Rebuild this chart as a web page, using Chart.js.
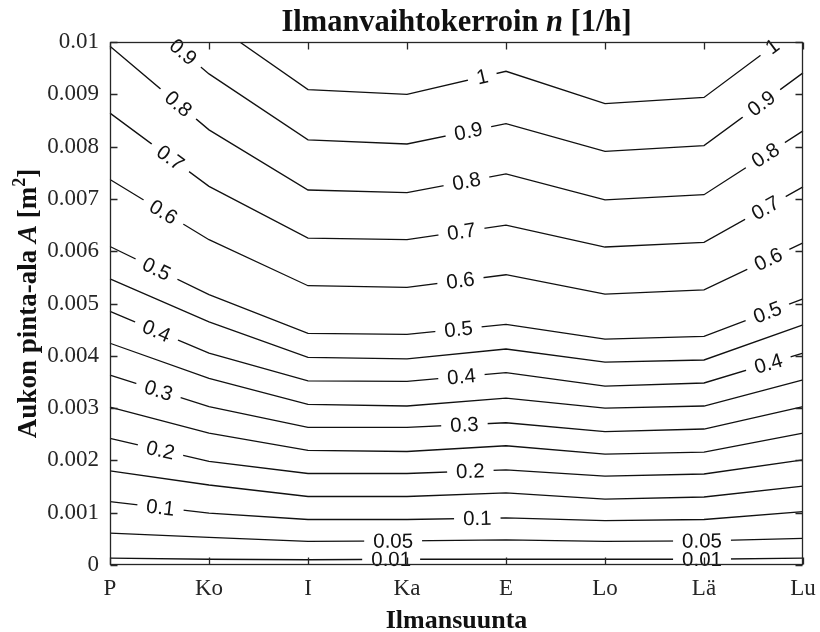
<!DOCTYPE html>
<html>
<head>
<meta charset="utf-8">
<title>Ilmanvaihtokerroin</title>
<script src="https://cdn.jsdelivr.net/npm/chart.js@4.4.1/dist/chart.umd.min.js"></script>
<style>
  html, body { margin: 0; padding: 0; background: #fff; }
  #wrap { width: 820px; height: 632px; }
</style>
</head>
<body>
<div id="wrap"><canvas id="contourChart" width="820" height="632"></canvas></div>
<script>
// ilmansuunnat x-akselilla
const directions = ['P', 'Ko', 'I', 'Ka', 'E', 'Lo', 'Lä', 'Lu'];

// y-akselin jaot
const areaTicks = [0, 0.001, 0.002, 0.003, 0.004, 0.005, 0.006, 0.007, 0.008, 0.009, 0.01];
const areaTickLabels = ['0', '0.001', '0.002', '0.003', '0.004', '0.005', '0.006', '0.007', '0.008', '0.009', '0.01'];

// tasa-arvokäyrien tasot n [1/h]
const levelLabels = ['0.01', '0.05', '0.1', '0.15', '0.2', '0.25', '0.3', '0.35', '0.4', '0.45', '0.5', '0.6', '0.7', '0.8', '0.9', '1'];

// aukon pinta-ala A [m2] jokaisella käyrällä, suunnissa P..Lu (luettu kuvasta)
const n001 = [0.00013, 0.00011, 0.00010, 0.00011, 0.00011, 0.00011, 0.00011, 0.00013];
const n005 = [0.00061, 0.00053, 0.00045, 0.00046, 0.00048, 0.00045, 0.00046, 0.00051];
const n010 = [0.00121, 0.00099, 0.00087, 0.00087, 0.00090, 0.00085, 0.00087, 0.00102];
const n015 = [0.00180, 0.00153, 0.00131, 0.00131, 0.00138, 0.00126, 0.00130, 0.00151];
const n020 = [0.00242, 0.00198, 0.00175, 0.00175, 0.00182, 0.00170, 0.00174, 0.00201];
const n025 = [0.00302, 0.00252, 0.00219, 0.00217, 0.00228, 0.00212, 0.00216, 0.00252];
const n030 = [0.00363, 0.00303, 0.00263, 0.00263, 0.00272, 0.00255, 0.00260, 0.00303];
const n035 = [0.00424, 0.00357, 0.00307, 0.00304, 0.00319, 0.00300, 0.00304, 0.00354];
const n040 = [0.00485, 0.00405, 0.00352, 0.00351, 0.00368, 0.00342, 0.00348, 0.00405];
const n045 = [0.00547, 0.00465, 0.00397, 0.00394, 0.00413, 0.00388, 0.00392, 0.00459];
const n050 = [0.00609, 0.00517, 0.00443, 0.00441, 0.00460, 0.00432, 0.00437, 0.00509];
const n060 = [0.00737, 0.00622, 0.00534, 0.00531, 0.00555, 0.00518, 0.00526, 0.00616];
const n070 = [0.00864, 0.00724, 0.00625, 0.00622, 0.00650, 0.00608, 0.00617, 0.00723];
const n080 = [0.00992, 0.00832, 0.00717, 0.00712, 0.00748, 0.00698, 0.00708, 0.00830];
const n090 = [0.01100, 0.00939, 0.00813, 0.00805, 0.00844, 0.00791, 0.00802, 0.00941];
const n100 = [0.01230, 0.01041, 0.00909, 0.00900, 0.00944, 0.00882, 0.00894, 0.01035];

const contourLines = [n001, n005, n010, n015, n020, n025, n030, n035, n040, n045, n050, n060, n070, n080, n090, n100];

// käyrien tekstit: [taso, kohta x-akselilla suuntaindeksinä]
const labelSpots = [
  ['0.9', 0.74], ['0.8', 0.69], ['0.7', 0.61], ['0.6', 0.54], ['0.5', 0.47],
  ['0.4', 0.47], ['0.3', 0.49], ['0.2', 0.51], ['0.1', 0.51],
  ['1', 3.76], ['0.9', 3.62], ['0.8', 3.6], ['0.7', 3.55], ['0.6', 3.54],
  ['0.5', 3.52], ['0.4', 3.55], ['0.3', 3.58], ['0.2', 3.64], ['0.1', 3.71],
  ['0.05', 2.86], ['0.01', 2.84],
  ['1', 6.69], ['0.9', 6.58], ['0.8', 6.62], ['0.7', 6.62], ['0.6', 6.65],
  ['0.5', 6.64], ['0.4', 6.65], ['0.05', 5.98], ['0.01', 5.98]
];

const SERIF = '"Liberation Serif", "Times New Roman", serif';
const SANS = '"Liberation Sans", Arial, sans-serif';
const AXIS_COLOR = '#262626';

// piirtää tekstin osista (eri fontit) keskitettynä
function drawParts(ctx, parts, cx, baseY){
  let total = 0;
  parts.forEach(p => { ctx.font = p.font; p.w = ctx.measureText(p.text).width; total += p.w; });
  let x = cx - total / 2;
  ctx.textAlign = 'left';
  ctx.textBaseline = 'alphabetic';
  parts.forEach(p => {
    ctx.font = p.font;
    ctx.fillText(p.text, x, baseY - (p.rise || 0));
    x += p.w;
  });
}

const contourLabels = {
  id: 'contourLabels',
  afterDatasetsDraw(chart){
    const ctx = chart.ctx;
    ctx.save();
    ctx.font = '20.5px ' + SANS;
    ctx.textAlign = 'center';
    ctx.textBaseline = 'middle';
    labelSpots.forEach(([txt, at]) => {
      const pts = chart.getDatasetMeta(levelLabels.indexOf(txt)).data;
      const i = Math.min(Math.floor(at), pts.length - 2);
      const t = at - i;
      const a = pts[i], b = pts[i + 1];
      const x = a.x + (b.x - a.x) * t;
      const y = a.y + (b.y - a.y) * t;
      const ang = Math.atan2(b.y - a.y, b.x - a.x);
      const w = ctx.measureText(txt).width;
      ctx.save();
      ctx.translate(x, y);
      ctx.rotate(ang);
      ctx.fillStyle = '#fff';
      ctx.fillRect(-w / 2 - 9, -4, w + 18, 8);
      ctx.fillStyle = '#111';
      ctx.fillText(txt, 0, 1);
      ctx.restore();
    });
    ctx.restore();
  }
};

const frame = {
  id: 'frame',
  afterDraw(chart){
    const {ctx, chartArea: ca, scales: {x, y}} = chart;
    const L = Math.round(ca.left) + 0.5, R = Math.round(ca.right) - 0.5;
    const T = Math.round(ca.top) + 0.5, B = Math.round(ca.bottom) - 0.5;
    const tick = 7;
    ctx.save();
    ctx.strokeStyle = AXIS_COLOR;
    ctx.lineWidth = 1.3;
    ctx.strokeRect(L, T, R - L, B - T);
    ctx.beginPath();
    x.ticks.forEach((tk, i) => {
      const px = Math.round(x.getPixelForTick(i)) + 0.5;
      ctx.moveTo(px, B); ctx.lineTo(px, B - tick);
      ctx.moveTo(px, T); ctx.lineTo(px, T + tick);
    });
    y.ticks.forEach((tk, i) => {
      const py = Math.round(y.getPixelForTick(i)) + 0.5;
      ctx.moveTo(L, py); ctx.lineTo(L + tick, py);
      ctx.moveTo(R, py); ctx.lineTo(R - tick, py);
    });
    ctx.stroke();

    // otsikot
    ctx.fillStyle = '#111';
    const cx = (ca.left + ca.right) / 2;
    drawParts(ctx, [
      {text: 'Ilmanvaihtokerroin ', font: 'bold 30.5px ' + SERIF},
      {text: 'n', font: 'italic bold 30.5px ' + SERIF},
      {text: ' [1/h]', font: 'bold 30.5px ' + SERIF}
    ], cx, 31);
    drawParts(ctx, [{text: 'Ilmansuunta', font: 'bold 26px ' + SERIF}], cx, 628);

    ctx.save();
    ctx.translate(36, (ca.top + ca.bottom) / 2);
    ctx.rotate(-Math.PI / 2);
    drawParts(ctx, [
      {text: 'Aukon pinta-ala ', font: 'bold 27px ' + SERIF},
      {text: 'A', font: 'italic bold 27px ' + SERIF},
      {text: ' [m', font: 'bold 27px ' + SERIF},
      {text: '2', font: 'bold 18px ' + SERIF, rise: 11},
      {text: ']', font: 'bold 27px ' + SERIF}
    ], 0, 0);
    ctx.restore();
    ctx.restore();
  }
};

const datasets = contourLines.map((vals, i) => ({
  label: levelLabels[i],
  data: vals,
  borderColor: '#111',
  borderWidth: 1.3,
  pointRadius: 0,
  tension: 0,
  fill: false
}));

new Chart(document.getElementById('contourChart'), {
  type: 'line',
  data: { labels: directions, datasets: datasets },
  options: {
    responsive: false,
    animation: false,
    devicePixelRatio: 1,
    layout: { padding: { top: 42, right: 17, bottom: 0, left: 0 } },
    plugins: { legend: { display: false }, tooltip: { enabled: false }, title: { display: false } },
    scales: {
      x: {
        type: 'category',
        offset: false,
        grid: { display: false, drawTicks: false },
        border: { display: false },
        ticks: { color: AXIS_COLOR, padding: 10, maxRotation: 0, autoSkip: false, font: { family: SERIF, size: 23 } },
        afterFit(s){ s.height = 67; s.paddingLeft = 0; s.paddingRight = 0; }
      },
      y: {
        type: 'linear',
        min: 0,
        max: 0.01,
        grid: { display: false, drawTicks: false },
        border: { display: false },
        afterBuildTicks(s){ s.ticks = areaTicks.map(v => ({ value: v })); },
        ticks: {
          color: AXIS_COLOR, padding: 11, font: { family: SERIF, size: 23 },
          callback: (v, i) => areaTickLabels[i]
        },
        afterFit(s){ s.width = 110; s.paddingTop = 0; s.paddingBottom = 0; }
      }
    }
  },
  plugins: [contourLabels, frame]
});
</script>
</body>
</html>
